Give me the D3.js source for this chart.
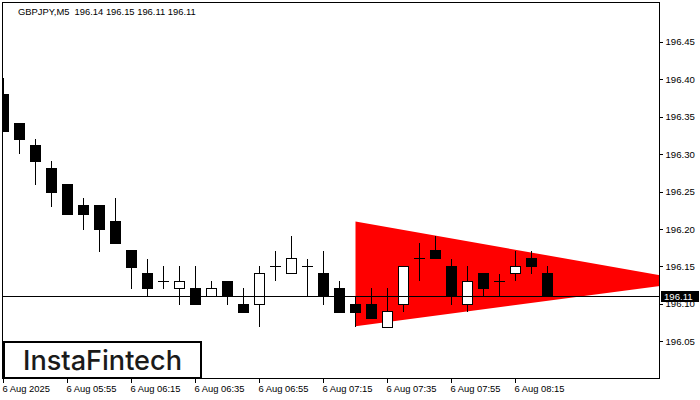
<!DOCTYPE html>
<html>
<head>
<meta charset="utf-8">
<script src="https://cdn.jsdelivr.net/npm/d3@7"></script>
<style>
  html, body { margin: 0; padding: 0; background: #fff; }
  svg { display: block; }
  text { font-family: "Liberation Sans", Arial, sans-serif; }
</style>
</head>
<body>
<svg id="chart" width="700" height="400"></svg>
<script>
// ---- data ----
const symbolTitle = "GBPJPY,M5  196.14 196.15 196.11 196.11";
const openP  = [196.380,196.341,196.311,196.281,196.260,196.231,196.231,196.210,196.171,196.140,196.130,196.121,196.121,196.110,196.130,196.099,196.099,196.150,196.140,196.150,196.140,196.121,196.099,196.099,196.069,196.099,196.160,196.171,196.150,196.099,196.140,196.130,196.140,196.160,196.140];
const highP  = [196.401,196.341,196.320,196.291,196.260,196.241,196.231,196.241,196.171,196.160,196.150,196.150,196.150,196.130,196.130,196.121,196.150,196.171,196.191,196.160,196.171,196.130,196.110,196.121,196.121,196.150,196.181,196.191,196.160,196.150,196.140,196.140,196.171,196.171,196.150];
const lowP   = [196.330,196.300,196.259,196.229,196.219,196.199,196.169,196.180,196.120,196.110,196.120,196.099,196.099,196.110,196.099,196.089,196.069,196.130,196.140,196.110,196.099,196.089,196.069,196.080,196.069,196.089,196.130,196.160,196.099,196.089,196.111,196.111,196.130,196.140,196.111];
const closeP = [196.330,196.319,196.290,196.249,196.219,196.219,196.199,196.180,196.149,196.120,196.130,196.130,196.099,196.121,196.110,196.089,196.140,196.150,196.160,196.150,196.110,196.089,196.089,196.080,196.090,196.150,196.160,196.160,196.111,196.130,196.121,196.130,196.150,196.150,196.111];
const xTickIndex  = [0, 4, 8, 12, 16, 20, 24, 28, 32];
const xTickLabels = ["6 Aug 2025","6 Aug 05:55","6 Aug 06:15","6 Aug 06:35","6 Aug 06:55","6 Aug 07:15","6 Aug 07:35","6 Aug 07:55","6 Aug 08:15"];
const yTickValues = [196.05,196.10,196.15,196.20,196.25,196.30,196.35,196.40,196.45];
const lastPrice = 196.11;
const triangleIndex = [22, 43.2, 22];
const trianglePrice = [196.21, 196.13, 196.07];
const logoText = "InstaFintech";

// ---- layout ----
const svg = d3.select("#chart");
const plot = {left: 2.5, top: 2.5, right: 659.5, bottom: 378.5};

const x = d3.scaleLinear().domain([0, 41]).range([3.5, 659.5]);
const y = d3.scaleLinear().domain([196.05, 196.45]).range([341.3, 41.7]);

svg.append("rect").attr("width", 700).attr("height", 400).attr("fill", "#fff");

svg.append("defs").append("clipPath").attr("id", "plotClip")
  .append("rect")
  .attr("x", plot.left).attr("y", plot.top)
  .attr("width", plot.right - plot.left).attr("height", plot.bottom - plot.top);

const g = svg.append("g").attr("clip-path", "url(#plotClip)");

// triangle pattern
const tri = triangleIndex.map((d, i) => [x(d), y(trianglePrice[i])]);
g.append("path")
  .attr("d", d3.line()(tri) + "Z")
  .attr("fill", "#ff0000");

// candles
const candles = openP.map((o, i) => ({i, o, h: highP[i], l: lowP[i], c: closeP[i]}));
const cg = g.append("g").attr("shape-rendering", "crispEdges");
cg.selectAll("line.wick").data(candles).join("line")
  .attr("x1", d => x(d.i)).attr("x2", d => x(d.i))
  .attr("y1", d => y(d.h)).attr("y2", d => y(d.l))
  .attr("stroke", "#000").attr("stroke-width", 1);

cg.selectAll("rect.body").data(candles.filter(d => Math.abs(d.o - d.c) > 0.0005)).join("rect")
  .attr("x", d => x(d.i) - 5)
  .attr("width", 10)
  .attr("y", d => y(Math.max(d.o, d.c)))
  .attr("height", d => Math.max(1, y(Math.min(d.o, d.c)) - y(Math.max(d.o, d.c))))
  .attr("fill", d => d.c > d.o ? "#fff" : "#000")
  .attr("stroke", "#000").attr("stroke-width", 1);

cg.selectAll("line.doji").data(candles.filter(d => Math.abs(d.o - d.c) <= 0.0005)).join("line")
  .attr("x1", d => x(d.i) - 5.5).attr("x2", d => x(d.i) + 5.5)
  .attr("y1", d => y(d.o)).attr("y2", d => y(d.o))
  .attr("stroke", "#000").attr("stroke-width", 1);

// last price line
g.append("line")
  .attr("x1", plot.left).attr("x2", plot.right)
  .attr("y1", Math.round(y(lastPrice)) + 0.5).attr("y2", Math.round(y(lastPrice)) + 0.5)
  .attr("stroke", "#000").attr("stroke-width", 1);

// frame
svg.append("rect")
  .attr("x", plot.left).attr("y", plot.top)
  .attr("width", plot.right - plot.left).attr("height", plot.bottom - plot.top)
  .attr("fill", "none").attr("stroke", "#000").attr("stroke-width", 1)
  .attr("shape-rendering", "crispEdges");

// y axis
const yAxis = d3.axisRight(y).tickValues(yTickValues).tickFormat(d3.format(".2f")).tickSize(3).tickPadding(3);
const ya = svg.append("g").attr("transform", `translate(${plot.right},0)`).call(yAxis);
ya.select(".domain").remove();
ya.selectAll("line").attr("stroke", "#000").attr("shape-rendering", "crispEdges");
ya.selectAll("text").attr("fill", "#000").style("font-size", "9.6px")
  .style("font-family", "'Liberation Sans', Arial, sans-serif");

// last price box
const ly = Math.round(y(lastPrice));
svg.append("rect").attr("x", 661).attr("y", ly - 5).attr("width", 38).attr("height", 11).attr("fill", "#000");
svg.append("text").attr("x", 664).attr("y", ly + 4)
  .attr("fill", "#fff").style("font-size", "9.6px").text(d3.format(".2f")(lastPrice));

// x axis
const xa = svg.append("g").attr("transform", `translate(0,${plot.bottom})`);
xa.selectAll("line").data(xTickIndex).join("line")
  .attr("x1", d => Math.floor(x(d)) + 0.5).attr("x2", d => Math.floor(x(d)) + 0.5)
  .attr("y1", 0).attr("y2", 4)
  .attr("stroke", "#000").attr("shape-rendering", "crispEdges");
xa.selectAll("text").data(xTickIndex).join("text")
  .attr("x", d => x(d) - 1).attr("y", 13.5)
  .attr("fill", "#000").style("font-size", "9.4px")
  .text((d, i) => xTickLabels[i]);

// title
svg.append("text").attr("x", 18).attr("y", 14.5)
  .attr("fill", "#000").style("font-size", "9.4px").style("white-space", "pre")
  .text(symbolTitle);

// logo
svg.append("rect").attr("x", 4).attr("y", 342).attr("width", 197).attr("height", 36)
  .attr("fill", "#fff").attr("stroke", "#000").attr("stroke-width", 2);
svg.append("text").attr("x", 23).attr("y", 369.5)
  .attr("textLength", 159).attr("lengthAdjust", "spacingAndGlyphs")
  .attr("fill", "#1a1a1a")
  .style("font-family", "Inter, 'Noto Sans', sans-serif").style("font-size", "27.5px").style("font-weight", 500)
  .text(logoText);
</script>
</body>
</html>
